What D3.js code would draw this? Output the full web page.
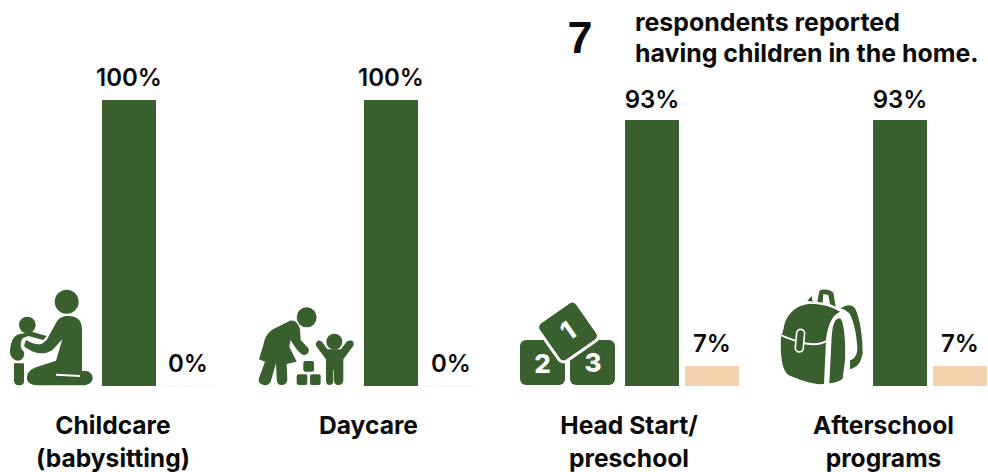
<!DOCTYPE html>
<html><head><meta charset="utf-8">
<script src="https://cdn.jsdelivr.net/npm/d3@7"></script>
<style>html,body{margin:0;background:#fff}svg{display:block}text{font-family:Inter,sans-serif;fill:#0b0b0b}</style>
</head><body><div id="c"></div>
<script>
const categories=["Childcare (babysitting)","Daycare","Head Start/ preschool","Afterschool programs"];
const categoryLines=[["Childcare","(babysitting)"],["Daycare"],["Head Start/","preschool"],["Afterschool","programs"]];
const yesValues=[100,100,93,93];
const noValues=[0,0,7,7];
const headlineNumber="7";
const headlineLines=["respondents reported","having children in the home."];
const colors={yes:"#3a5f2e",no:"#f3d1ad"};
const W=988,H=472;
const svg=d3.select("#c").append("svg").attr("width",W).attr("height",H);
const y=d3.scaleLinear().domain([0,100]).range([386,100]);
const groupX=d3.scaleOrdinal().domain(categories).range([102,364,625,873]);
const gapX=d3.scaleOrdinal().domain(categories).range([59,60,60,60]);
const barW=54;
const labelX=d3.scaleOrdinal().domain(categories).range([113,368.5,629,883.5]);
const data=categories.map((c,i)=>({c,i,yes:yesValues[i],no:noValues[i]}));
const fmt=v=>v+"%";
const g=svg.selectAll("g.cat").data(data).join("g").attr("class","cat").attr("transform",d=>`translate(${groupX(d.c)},0)`);
g.append("rect").attr("x",0).attr("width",barW).attr("y",d=>y(d.yes)).attr("height",d=>y(0)-y(d.yes)).attr("fill",colors.yes);
g.append("rect").attr("x",d=>gapX(d.c)).attr("width",barW).attr("y",d=>y(d.no)-(d.no?0:0.15)).attr("height",d=>Math.max(y(0)-y(d.no),0.3)).attr("fill",colors.no);
const valStyle=s=>s.attr("font-size",24).attr("font-weight",600).attr("text-anchor","middle");
g.append("text").attr("x",barW/2).attr("y",d=>y(d.yes)-(d.yes<100?12.5:14)).text(d=>fmt(d.yes)).call(valStyle);
g.append("text").attr("x",d=>gapX(d.c)+barW/2).attr("y",d=>y(d.no)-14).text(d=>fmt(d.no)).call(valStyle);
svg.selectAll("text.lab").data(data).join("text").attr("class","lab").attr("text-anchor","middle")
 .attr("x",d=>labelX(d.c)).attr("y",434).attr("font-size",24.6).attr("font-weight",700)
 .selectAll("tspan").data(d=>categoryLines[d.i].map(t=>({t,x:labelX(d.c)}))).join("tspan")
 .attr("x",d=>d.x).attr("dy",(d,i)=>i?33:0).text(d=>d.t);
svg.append("text").attr("x",580).attr("y",53).attr("text-anchor","middle").attr("font-size",45).attr("font-weight",700).style("font-family","'Liberation Sans',sans-serif").text(headlineNumber);
svg.selectAll("text.head").data(headlineLines).join("text").attr("class","head").attr("x",635)
 .attr("y",(d,i)=>31+i*31).attr("font-size",24.9).attr("font-weight",700).text(d=>d);

// icons, drawn in 3x coordinates
const icon=(x,yy)=>svg.append("g").attr("fill",colors.yes).attr("transform",`translate(${x},${yy}) scale(${1/3})`);
const a=icon(0,270);
a.append("circle").attr("cx",200).attr("cy",95).attr("r",36);
a.append("path").attr("d","M205,138C235,138 246,155 246,178L246,303L258,303C272,305 278,315 278,325C276,340 262,346 250,346L110,346C90,346 80,335 81,322C82,308 92,298 108,292L168,272L187,208L165,232C155,245 140,250 125,250C105,250 85,240 72,228L78,210C90,218 110,225 125,222L140,210L170,155C178,143 190,138 205,138Z");
a.append("path").attr("d","M168,314L240,318").attr("stroke","#fff").attr("stroke-width",6).attr("fill","none");
a.append("circle").attr("cx",82).attr("cy",165).attr("r",25);
a.append("path").attr("d","M60,192C40,195 33,215 30,240C28,258 40,272 55,272C68,270 75,258 72,245C62,240 58,220 68,205L85,198L130,210L140,198L95,185C85,188 72,190 60,192Z");
a.append("path").attr("d","M42,280H72V335C72,342 65,346 57,346C48,346 42,340 42,332Z");

const b=icon(250,290);
b.append("circle").attr("cx",170).attr("cy",82).attr("r",30);
b.append("path").attr("d","M120,92C135,90 145,100 150,118L152,150L175,175C180,183 172,198 160,195C145,188 130,165 122,150L118,170L140,215L110,222L112,270C110,282 100,286 92,285C83,285 80,275 80,265L78,220L62,275C55,288 40,288 30,280C25,275 25,268 28,262L45,215L27,208L40,165C45,140 55,125 75,115Z");
[[160,213],[140,253],[180,253]].forEach(p=>b.append("rect").attr("x",p[0]).attr("y",p[1]).attr("width",32).attr("height",32).attr("rx",6));
b.append("circle").attr("cx",253).attr("cy",155).attr("r",24);
b.append("path").attr("d","M200,155C205,150 212,150 218,158L232,178H273L290,155C296,150 305,150 310,155C312,160 312,165 308,170L280,208V272C280,280 272,285 265,285C257,285 253,280 252,272V240H250V272C250,280 245,285 238,285C232,285 228,280 228,272V208L200,170C197,165 197,160 200,155Z");

const c=svg.append("g").attr("fill",colors.yes);
c.append("rect").attr("x",520).attr("y",340).attr("width",45).attr("height",45).attr("rx",6);
c.append("rect").attr("x",570).attr("y",340).attr("width",45).attr("height",45).attr("rx",6);
c.append("rect").attr("x",544.5).attr("y",308).attr("width",47).attr("height",47).attr("rx",6)
 .attr("transform","rotate(-35 568 331.5)").attr("stroke","#fff").attr("stroke-width",3);
const bt=(t,xx,yy,rot)=>svg.append("text").attr("x",xx).attr("y",yy).attr("text-anchor","middle").attr("font-size",26).attr("font-weight",800).style("fill","#fff")
 .attr("transform",rot?`rotate(${rot} 568 331)`:null).text(t);
bt("2",542.5,373);bt("3",593,372);bt("1",568,340,-35);

const d4=icon(770,280);
d4.append("path").attr("d","M40,150C45,110 70,80 110,73C140,70 175,75 210,95C190,105 175,125 168,180L162,312C130,315 90,300 55,285C38,272 30,235 33,172Z");
d4.append("path").attr("d","M35,167C70,180 130,208 172,182").attr("fill","none").attr("stroke","#fff").attr("stroke-width",6);
d4.append("rect").attr("x",78).attr("y",148).attr("width",24).attr("height",68).attr("rx",12).attr("transform","rotate(5 90 180)").attr("stroke","#fff").attr("stroke-width",5);
d4.append("path").attr("d","M178,310L185,170C188,130 195,115 210,115C222,125 227,180 225,240L218,295C210,305 195,308 178,310Z");
d4.append("path").attr("d","M212,85C225,75 245,70 255,85C270,115 278,170 278,220C272,250 262,262 240,268L240,240C252,240 262,225 262,205C260,160 250,120 238,100L225,90Z");
d4.append("path").attr("d","M142,65L148,32C160,25 180,28 190,38L197,80L180,72L175,45L160,42L158,68Z");
d4.append("path").attr("d","M112,62L125,48L128,65Z");
</script></body></html>
